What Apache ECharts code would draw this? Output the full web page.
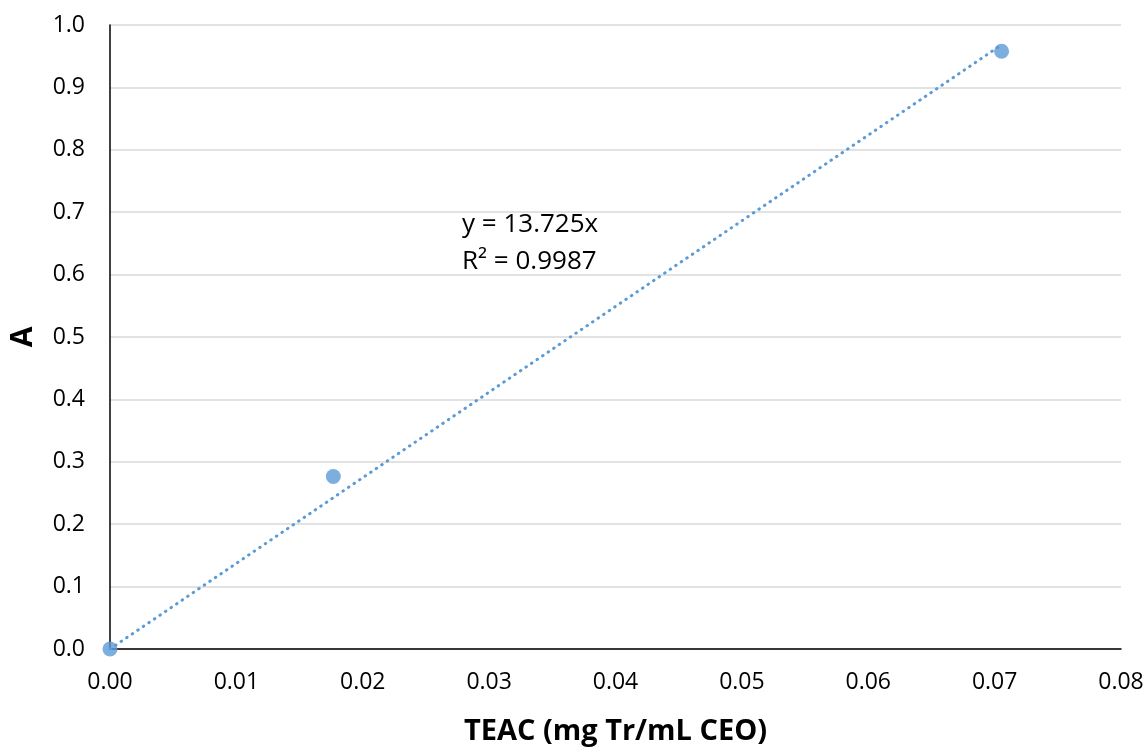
<!DOCTYPE html>
<html>
<head>
<meta charset="utf-8">
<script src="https://cdn.jsdelivr.net/npm/echarts@6/dist/echarts.min.js"></script>
<style>
  html, body { margin: 0; padding: 0; background: #ffffff; }
  #chart { width: 1148px; height: 749px; }
</style>
</head>
<body>
<div id="chart"></div>
<script>
// Calibration points: TEAC concentration vs absorbance
const teac = [0.0, 0.01767, 0.07055];
const absorbance = [0.0, 0.2765, 0.958];

// Linear fit through the origin
const slope = 13.725;
const rSquared = 0.9987;

const xTicks = [0, 0.01, 0.02, 0.03, 0.04, 0.05, 0.06, 0.07, 0.08];
const yTicks = [0, 0.1, 0.2, 0.3, 0.4, 0.5, 0.6, 0.7, 0.8, 0.9, 1.0];

const FONT = '"Open Sans", "Liberation Sans", sans-serif';
const BLUE = '#5b9bd5';

const points = teac.map((x, i) => [x, absorbance[i]]);
const xEnd = teac[teac.length - 1];
const trend = [[0, 0], [xEnd, slope * xEnd]];

const chart = echarts.init(document.getElementById('chart'), null, { renderer: 'canvas' });

chart.setOption({
  animation: false,
  backgroundColor: '#ffffff',
  grid: {
    left: 110, right: 27, top: 25, bottom: 100,
    containLabel: false,
    outerBoundsMode: 'none'
  },
  xAxis: {
    type: 'value',
    min: xTicks[0],
    max: xTicks[xTicks.length - 1],
    interval: 0.01,
    name: 'TEAC (mg Tr/mL CEO)',
    nameLocation: 'middle',
    nameGap: 68,
    nameTextStyle: { fontFamily: FONT, fontSize: 29, fontWeight: 'bold', color: '#000' },
    axisLine: { show: true, onZero: false, lineStyle: { color: '#000', width: 1.5 } },
    axisTick: { show: false },
    splitLine: { show: false },
    axisLabel: {
      fontFamily: FONT, fontSize: 23, color: '#000', margin: 22,
      formatter: v => v.toFixed(2)
    }
  },
  yAxis: {
    type: 'value',
    min: yTicks[0],
    max: yTicks[yTicks.length - 1],
    interval: 0.1,
    name: 'A',
    nameLocation: 'middle',
    nameGap: 72,
    nameRotate: 90,
    nameTextStyle: { fontFamily: FONT, fontSize: 30, fontWeight: 'bold', color: '#000' },
    axisLine: { show: true, onZero: false, lineStyle: { color: '#000', width: 1.5 } },
    axisTick: { show: false },
    splitLine: { show: true, lineStyle: { color: '#d9d9d9', width: 1.5 } },
    axisLabel: {
      fontFamily: FONT, fontSize: 23, color: '#000', margin: 25,
      formatter: v => v.toFixed(1)
    }
  },
  series: [
    {
      name: 'Linear (A)',
      type: 'line',
      data: trend,
      showSymbol: false,
      symbol: 'none',
      z: 2,
      lineStyle: { color: BLUE, width: 3, type: [0.5, 6.2], cap: 'round' }
    },
    {
      name: 'A',
      type: 'scatter',
      data: points,
      symbol: 'circle',
      symbolSize: 15,
      z: 3,
      itemStyle: { color: BLUE }
    }
  ],
  graphic: [
    {
      type: 'text',
      left: 462,
      top: 206,
      style: {
        text: 'y = ' + slope + 'x\nR\u00b2 = ' + rSquared,
        fontFamily: FONT,
        fontSize: 26,
        lineHeight: 37,
        fill: '#000'
      }
    }
  ]
});
</script>
</body>
</html>
